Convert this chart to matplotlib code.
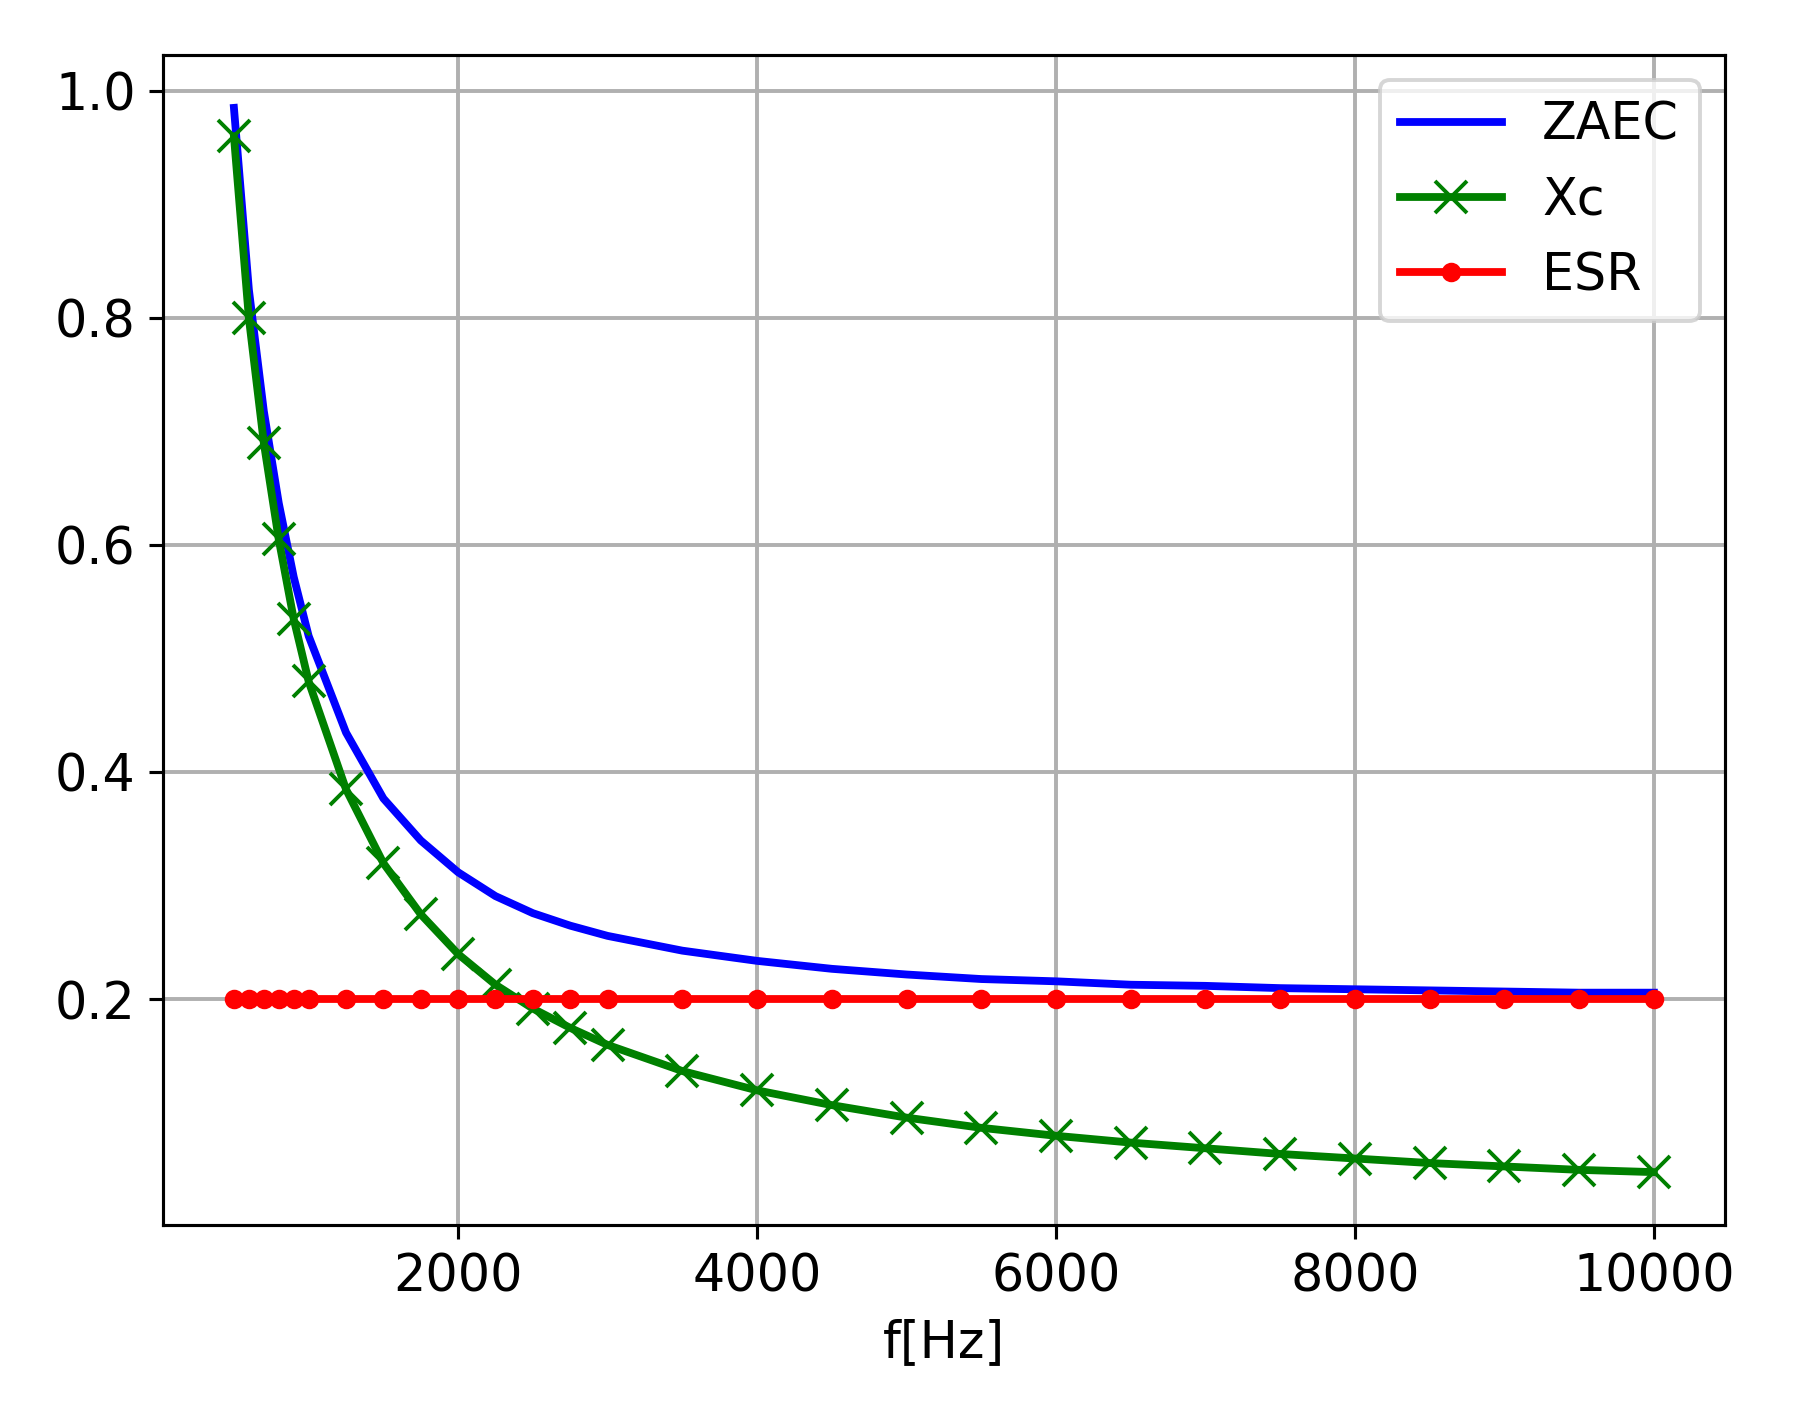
import numpy as np
import matplotlib
matplotlib.use("Agg")
import matplotlib.pyplot as plt

freq = [500, 600, 700, 800, 900, 1000, 1250, 1500, 1750, 2000, 2250, 2500, 2750,
        3000, 3500, 4000, 4500, 5000, 5500, 6000, 6500, 7000, 7500, 8000, 8500,
        9000, 9500, 10000]
xc = [0.96, 0.80, 0.69, 0.605, 0.535, 0.48, 0.385, 0.32, 0.275, 0.24, 0.213, 0.192,
      0.175, 0.16, 0.137, 0.12, 0.107, 0.096, 0.087, 0.08, 0.074, 0.069, 0.064,
      0.06, 0.056, 0.053, 0.05, 0.048]
zaec = [0.985, 0.825, 0.718, 0.637, 0.572, 0.52, 0.435, 0.377, 0.34, 0.312, 0.291,
        0.276, 0.265, 0.256, 0.243, 0.234, 0.227, 0.222, 0.218, 0.216, 0.213,
        0.212, 0.21, 0.209, 0.208, 0.207, 0.206, 0.206]
esr = [0.2] * len(freq)

plt.rcParams['font.size'] = 13
fig, ax = plt.subplots(figsize=(6.4, 5.068), dpi=280.8)
ax.plot(freq, zaec, color='blue', lw=2, label='ZAEC')
ax.plot(freq, xc, color='green', lw=2, marker='x', ms=8, label='Xc')
ax.plot(freq, esr, color='red', lw=2, marker='.', ms=8, label='ESR')
ax.grid(True, lw=1)
ax.set_xlabel('f[Hz]')
ax.set_xticks([2000, 4000, 6000, 8000, 10000])
ax.legend(loc='upper right')
plt.tight_layout()
plt.savefig('out.png')
